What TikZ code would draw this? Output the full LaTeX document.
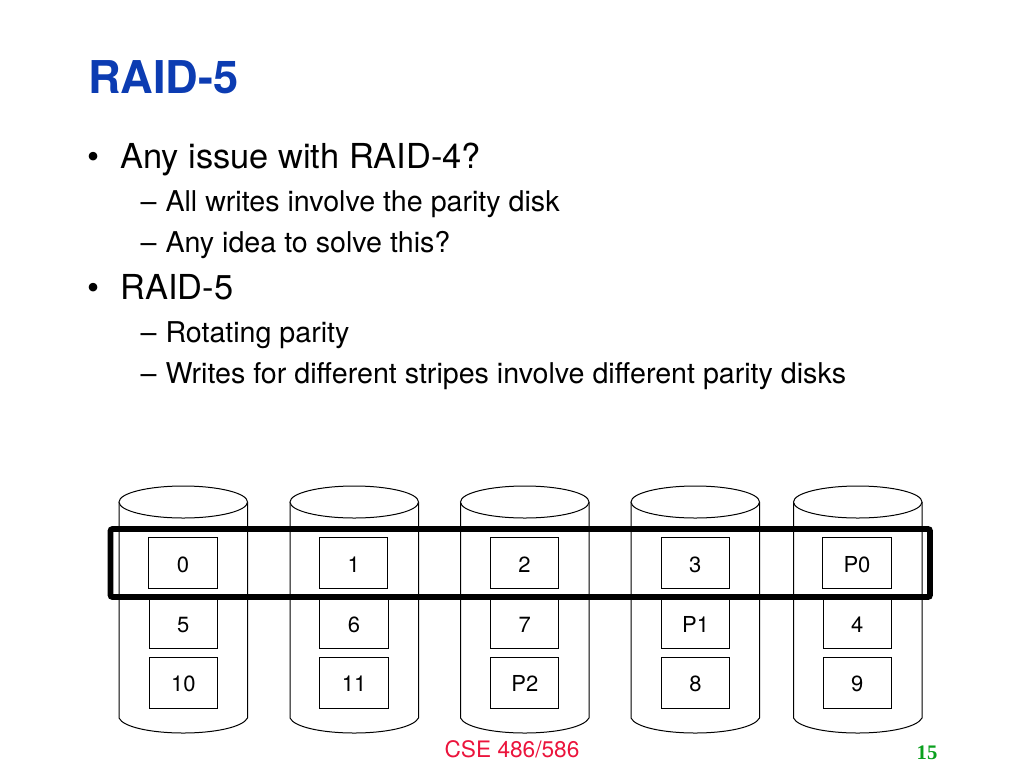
\documentclass[tikz,border=0pt]{standalone}
\usepackage{fontspec}
\setmainfont{TeX Gyre Heros}
\newfontfamily\serifnum{Liberation Serif}
\definecolor{titleblue}{RGB}{12,60,178}
\definecolor{slidered}{RGB}{235,20,60}
\definecolor{slidegreen}{RGB}{10,160,30}
\tikzset{
  x=0.75pt,y=-0.75pt,
  txt/.style={anchor=base west,inner sep=0pt,outer sep=0pt,text=black},
  lvlone/.style={txt,font=\fontsize{25.8pt}{30pt}\selectfont},
  lvltwo/.style={txt,font=\fontsize{21.47pt}{26pt}\selectfont},
  blockbox/.style={draw=black,line width=0.75pt,minimum width=51.2pt,minimum height=38.2pt,inner sep=0pt,text height=13.9pt,text depth=0pt,font=\fontsize{16.5pt}{18pt}\selectfont},
  disk/.style={draw=black,line width=0.75pt,fill=white},
  stripe/.style={draw=black,line width=4.3pt,rounded corners=1.5pt},
}
\begin{document}
\begin{tikzpicture}
\useasboundingbox (0,0) rectangle (1024,768);
\node[txt,font=\fontsize{33.9pt}{40pt}\selectfont\bfseries,text=titleblue] (title) at (88,93) {RAID-5};
\node[lvlone] (b1) at (87.5,168) {•};
\node[lvlone] (t1) at (120.5,168) {Any issue with RAID-4?};
\node[lvltwo] (d1) at (140.5,211) {–};
\node[lvltwo] (t2) at (165.5,211) {All writes involve the parity disk};
\node[lvltwo] (d2) at (140.5,252) {–};
\node[lvltwo] (t3) at (165.5,252) {Any idea to solve this?};
\node[lvlone] (b2) at (87.5,299) {•};
\node[lvlone] (t4) at (120.5,299) {RAID-5};
\node[lvltwo] (d3) at (140.5,342) {–};
\node[lvltwo] (t5) at (165.5,342) {Rotating parity};
\node[lvltwo] (d4) at (140.5,383) {–};
\node[lvltwo] (t6) at (165.5,383) {Writes for different stripes involve different parity disks};
% disks
\foreach \L in {119,290,460.5,631,793.5}{
  \path[disk] (\L,502) -- (\L,718) .. controls (\L+4,727) and (\L+32,733) .. (\L+64.25,733)
     .. controls (\L+96,733) and (\L+124,727) .. (\L+128.5,718) -- (\L+128.5,502);
  \path[disk] (\L+64.25,502) ellipse [x radius=64.25,y radius=16];
}
% blocks
\foreach \X/\A/\B/\C [count=\i] in {183/0/5/10,353.7/1/6/11,524.5/2/7/P2,695.3/3/P1/8,857/P0/4/9}{
  \node[blockbox] (a\i) at (\X,563) {\A};
  \node[blockbox] (m\i) at (\X+0.3,623) {\B};
  \node[blockbox] (c\i) at (\X+0.3,682.7) {\C};
}
\path[stripe] (110.5,529) rectangle (930,597);
\node[anchor=base,inner sep=0pt,font=\fontsize{17pt}{20pt}\selectfont,text=slidered] (foot) at (512,757) {CSE 486/586};
\node[anchor=base,inner sep=0pt,font=\serifnum\fontsize{15.5pt}{18pt}\selectfont\bfseries,text=slidegreen] (num) at (927,759) {15};
\end{tikzpicture}
\end{document}
